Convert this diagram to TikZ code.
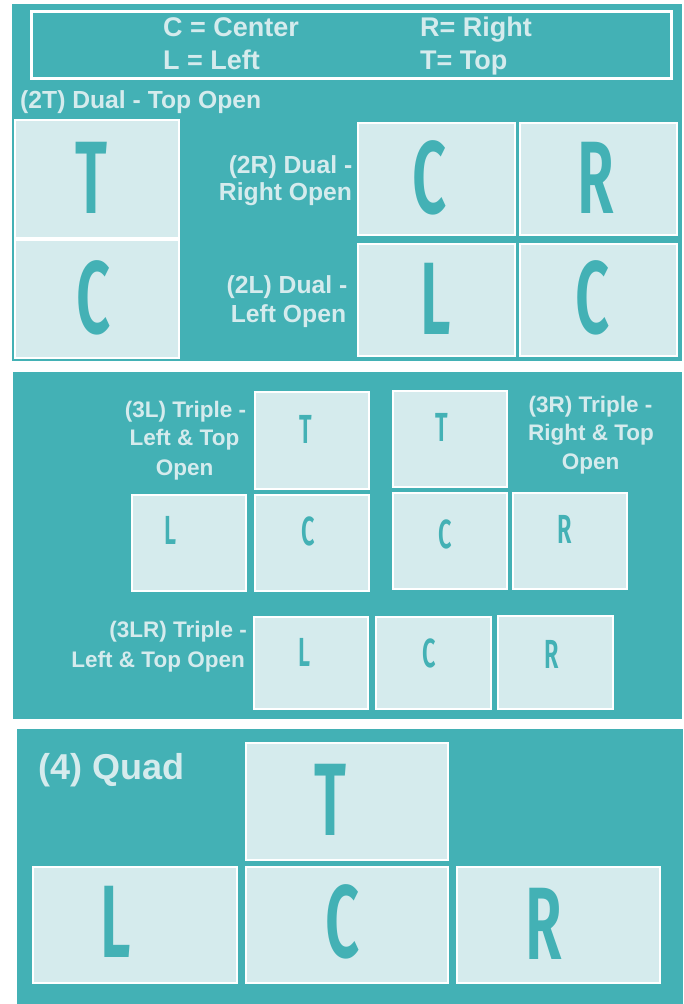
\documentclass[tikz,border=0pt]{standalone}
\usepackage{fontspec}
\setmainfont{Liberation Sans}
\newfontfamily\letterfont{Fira Sans SemiBold}
\definecolor{teal1}{RGB}{67,177,181}
\definecolor{pale}{RGB}{213,235,237}
\newcommand{\bigletter}[1]{{\letterfont\fontsize{103}{103}\selectfont\scalebox{0.58}[1]{#1}}}
\newcommand{\smallletter}[1]{{\letterfont\fontsize{40.6}{41}\selectfont\scalebox{0.58}[1]{#1}}}
\begin{document}
\begin{tikzpicture}[x=1pt,y=-1pt,
  panel/.style={fill=teal1,draw=none},
  slot/.style={fill=pale,draw=white,line width=1.5pt},
  leg/.style={text=pale,font=\fontsize{27}{30}\selectfont\bfseries,inner sep=0pt},
  lbl/.style={text=pale,font=\fontsize{24.7}{28}\selectfont\bfseries,inner sep=0pt,anchor=base},
  lbls/.style={text=pale,font=\fontsize{22.5}{26}\selectfont\bfseries,inner sep=0pt,anchor=base},
  lblq/.style={text=pale,font=\fontsize{36}{40}\selectfont\bfseries,inner sep=0pt,anchor=base west},
  bigl/.style={text=teal1,inner sep=0pt,anchor=base},
]
\fill[white] (0,0) rectangle (683,1004);
\useasboundingbox (0,0) rectangle (683,1004);

% ---------- panel 1 ----------
\fill[panel] (12,4) rectangle (682,361);
\draw[white,line width=3pt] (31,11) rectangle (671,78);
\node[leg,anchor=base west] (lc) at (163,36) {C = Center};
\node[leg,anchor=base west] (lr) at (420,36) {R= Right};
\node[leg,anchor=base west] (ll) at (163,69) {L = Left};
\node[leg,anchor=base west] (lt) at (420,69) {T= Top};

\node[lbl,anchor=base west] (t2T) at (20,108) {(2T) Dual - Top Open};
\node[lbl] (t2Ra) at (290.5,173) {(2R) Dual -};
\node[lbl] (t2Rb) at (285.5,200) {Right Open};
\node[lbl] (t2La) at (287,293) {(2L) Dual -};
\node[lbl] (t2Lb) at (288.5,322) {Left Open};

\draw[slot] (15,120) rectangle (179,238);
\draw[slot] (15,240) rectangle (179,358);
\draw[slot] (358,123) rectangle (515,235);
\draw[slot] (520,123) rectangle (677,235);
\draw[slot] (358,244) rectangle (515,356);
\draw[slot] (520,244) rectangle (677,356);

\node[bigl] (a1) at (91,213) {\bigletter{T}};
\node[bigl] (a2) at (94,333) {\bigletter{C}};
\node[bigl] (a3) at (429.5,213) {\bigletter{C}};
\node[bigl] (a4) at (596,213) {\bigletter{R}};
\node[bigl] (a5) at (436,334) {\bigletter{L}};
\node[bigl] (a6) at (593,333) {\bigletter{C}};

% ---------- panel 2 ----------
\fill[panel] (13,372) rectangle (682,719);
\node[lbls] (t3La) at (185.5,417) {(3L) Triple -};
\node[lbls] (t3Lb) at (184.5,445) {Left \& Top};
\node[lbls] (t3Lc) at (184.5,475) {Open};
\node[lbls] (t3Ra) at (590.5,412) {(3R) Triple -};
\node[lbls] (t3Rb) at (591,440) {Right \& Top};
\node[lbls] (t3Rc) at (590.5,469) {Open};
\node[lbls,anchor=base east] (t3LRa) at (247,637) {(3LR) Triple -};
\node[lbls,anchor=base east] (t3LRb) at (245,667) {Left \& Top Open};

\draw[slot] (255,392) rectangle (369,489);
\draw[slot] (132,495) rectangle (246,591);
\draw[slot] (255,495) rectangle (369,591);
\draw[slot] (393,391) rectangle (507,487);
\draw[slot] (393,493) rectangle (507,589);
\draw[slot] (513,493) rectangle (627,589);
\draw[slot] (254,617) rectangle (368,709);
\draw[slot] (376,617) rectangle (491,709);
\draw[slot] (498,616) rectangle (613,709);

\node[bigl] (b1) at (306,443) {\smallletter{T}};
\node[bigl] (b2) at (170,544) {\smallletter{L}};
\node[bigl] (b3) at (308,545) {\smallletter{C}};
\node[bigl] (b4) at (442,441) {\smallletter{T}};
\node[bigl] (b5) at (445,548) {\smallletter{C}};
\node[bigl] (b6) at (565,543) {\smallletter{R}};
\node[bigl] (b7) at (304,666) {\smallletter{L}};
\node[bigl] (b8) at (429,667) {\smallletter{C}};
\node[bigl] (b9) at (552,668) {\smallletter{R}};

% ---------- panel 3 ----------
\fill[panel] (17,729) rectangle (683,1004);
\node[lblq] (t4) at (38,779) {(4) Quad};

\draw[slot] (246,743) rectangle (448,860);
\draw[slot] (33,867) rectangle (237,983);
\draw[slot] (246,867) rectangle (448,983);
\draw[slot] (457,867) rectangle (660,983);

\node[bigl] (c1) at (330,835) {\bigletter{T}};
\node[bigl] (c2) at (116,957) {\bigletter{L}};
\node[bigl] (c3) at (343,957) {\bigletter{C}};
\node[bigl] (c4) at (544,959) {\bigletter{R}};
\end{tikzpicture}
\end{document}
